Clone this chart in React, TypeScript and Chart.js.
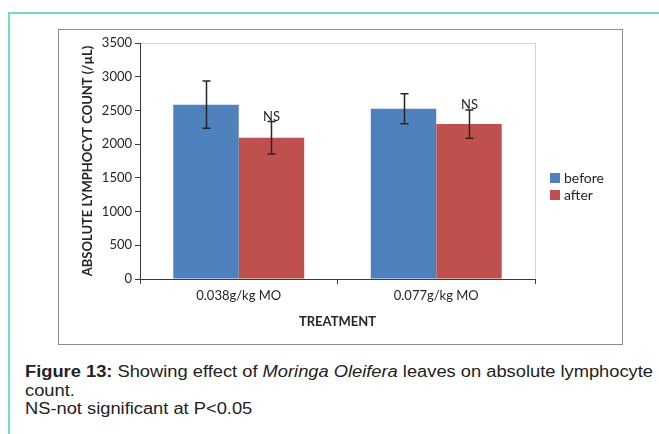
import React, { useEffect, useLayoutEffect, useRef, useState } from "react";
import { Chart, registerables } from "chart.js";

Chart.register(...registerables);

// ---- data ----
const categories = ["0.038g/kg MO", "0.077g/kg MO"];
const seriesLabels = ["before", "after"];
const beforeValues = [2585, 2526];
const afterValues = [2095, 2298];
const beforeErrors = [350, 222];
const afterErrors = [240, 210];
const afterMarks = ["NS", "NS"];
const yMin = 0;
const yMax = 3500;
const yStep = 500;
const yAxisTitle = "ABSOLUTE LYMPHOCYT COUNT (/\u00B5L)";
const xAxisTitle = "TREATMENT";
const seriesColors = ["#4f81bd", "#c0504d"];

const FONT = "Lato";
const TEXT = "#262626";
const AXIS = "#3a3a3a";

const plotBoxPlugin = {
  id: "plotBox",
  beforeDraw(chart: any) {
    const { ctx, chartArea: a } = chart;
    ctx.save();
    ctx.strokeStyle = "#d4d4d4";
    ctx.lineWidth = 1;
    ctx.strokeRect(Math.round(a.left) + 0.5, Math.round(a.top) + 0.5, Math.round(a.right - a.left), Math.round(a.bottom - a.top));
    ctx.restore();
  },
};

const errorBarPlugin = {
  id: "errorBars",
  afterDatasetsDraw(chart: any) {
    const { ctx } = chart;
    const yScale = chart.scales.y;
    chart.data.datasets.forEach((ds: any, i: number) => {
      const meta = chart.getDatasetMeta(i);
      meta.data.forEach((bar: any, j: number) => {
        const v = ds.data[j];
        const e = ds.errors[j];
        const top = yScale.getPixelForValue(v + e);
        const bot = yScale.getPixelForValue(v - e);
        const x = Math.round(bar.x) + 0.5;
        ctx.save();
        ctx.strokeStyle = "#262626";
        ctx.lineWidth = 1.5;
        ctx.beginPath();
        ctx.moveTo(x, top);
        ctx.lineTo(x, bot);
        ctx.moveTo(x - 4, top);
        ctx.lineTo(x + 4, top);
        ctx.moveTo(x - 4, bot);
        ctx.lineTo(x + 4, bot);
        ctx.stroke();
        if (ds.marks && ds.marks[j]) {
          ctx.fillStyle = TEXT;
          ctx.font = `13px ${FONT}`;
          ctx.textAlign = "center";
          ctx.textBaseline = "alphabetic";
          ctx.fillText(ds.marks[j], x, top - 1);
        }
        ctx.restore();
      });
    });
  },
};

const sideLegendPlugin = {
  id: "sideLegend",
  afterDraw(chart: any) {
    const { ctx, chartArea: a, height } = chart;
    const n = chart.data.datasets.length;
    const gap = 17;
    const x0 = a.right + 15;
    const yc = height / 2;
    ctx.save();
    chart.data.datasets.forEach((ds: any, i: number) => {
      const y = yc + (i - (n - 1) / 2) * gap;
      ctx.fillStyle = ds.backgroundColor;
      ctx.fillRect(x0, y - 5, 10, 10);
      ctx.fillStyle = TEXT;
      ctx.font = `14px ${FONT}`;
      ctx.textAlign = "left";
      ctx.textBaseline = "middle";
      ctx.fillText(ds.label, x0 + 14, y);
    });
    ctx.restore();
  },
};

function BarChart() {
  const ref = useRef<HTMLCanvasElement | null>(null);
  useEffect(() => {
    if (!ref.current) return;
    const chart = new Chart(ref.current, {
      type: "bar",
      data: {
        labels: categories,
        datasets: [
          {
            label: seriesLabels[0],
            data: beforeValues,
            backgroundColor: seriesColors[0],
            errors: beforeErrors,
            categoryPercentage: 0.663,
            barPercentage: 1,
          } as any,
          {
            label: seriesLabels[1],
            data: afterValues,
            backgroundColor: seriesColors[1],
            errors: afterErrors,
            marks: afterMarks,
            categoryPercentage: 0.663,
            barPercentage: 1,
          } as any,
        ],
      },
      options: {
        animation: false,
        responsive: false,
        maintainAspectRatio: false,
        layout: { padding: { top: 13, right: 86, left: 0, bottom: 0 } },
        plugins: { legend: { display: false }, tooltip: { enabled: false } },
        scales: {
          x: {
            grid: { display: true, drawOnChartArea: false, offset: true, color: AXIS, tickLength: 5 },
            border: { display: true, color: AXIS, width: 1 },
            ticks: { font: { family: FONT, size: 13 }, color: TEXT, padding: 4 },
            title: {
              display: true,
              text: xAxisTitle,
              font: { family: FONT, size: 13, weight: "bold" },
              color: TEXT,
              padding: { top: 0, bottom: 13 },
            },
            afterFit: (s: any) => {
              s.height = 64;
            },
          },
          y: {
            min: yMin,
            max: yMax,
            grid: { display: true, drawOnChartArea: false, color: AXIS, tickLength: 5 },
            border: { display: true, color: AXIS, width: 1 },
            ticks: {
              stepSize: yStep,
              font: { family: FONT, size: 13 },
              color: TEXT,
              padding: 3,
              callback: (v: any) => String(v),
            },
            title: {
              display: true,
              text: yAxisTitle,
              font: { family: FONT, size: 13, weight: "bold" },
              color: TEXT,
              padding: { top: 21, bottom: 0 },
            },
            afterFit: (s: any) => {
              s.width = 81;
            },
          },
        },
      } as any,
      plugins: [plotBoxPlugin, errorBarPlugin, sideLegendPlugin],
    });
    return () => chart.destroy();
  }, []);
  return <canvas ref={ref} width={562} height={313} style={{ width: 562, height: 313, display: "block" }} />;
}

export default function App() {
  const lineRef = useRef<HTMLSpanElement | null>(null);
  const [sx, setSx] = useState(1);
  useLayoutEffect(() => {
    if (lineRef.current) {
      const w = lineRef.current.getBoundingClientRect().width;
      if (w > 0) setSx(628 / w);
    }
  }, []);
  return (
    <div style={{ position: "absolute", left: 0, top: 0, width: 659, height: 434, overflow: "hidden", background: "#fff" }}>
      <div
        style={{
          position: "absolute",
          left: 8,
          top: 12,
          width: 700,
          height: 500,
          borderTop: "2px solid #76d6c8",
          borderLeft: "2px solid #76d6c8",
        }}
      />
      <div
        style={{
          position: "absolute",
          left: 58,
          top: 29,
          width: 565,
          height: 316,
          boxSizing: "border-box",
          border: "1px solid #8c8c8c",
        }}
      >
        <BarChart />
      </div>
      <div
        style={{
          position: "absolute",
          left: 25,
          top: 363,
          fontFamily: "'Liberation Sans', Arial, sans-serif",
          fontSize: 16,
          lineHeight: "18.7px",
          color: "#222",
          whiteSpace: "nowrap",
          transform: `scaleX(${sx})`,
          transformOrigin: "left top",
        }}
      >
        <span ref={lineRef}>
          <b>Figure 13:</b> Showing effect of <i>Moringa Oleifera</i> leaves on absolute lymphocyte
        </span>
        <br />
        count.
        <br />
        NS-not significant at P&lt;0.05
      </div>
    </div>
  );
}
